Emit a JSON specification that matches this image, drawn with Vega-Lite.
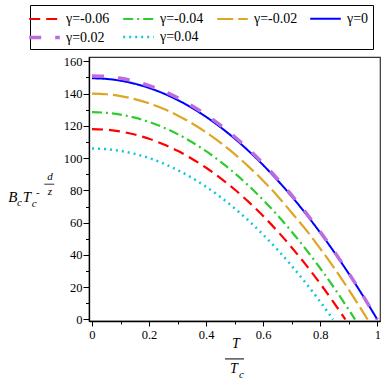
{
  "$schema": "https://vega.github.io/schema/vega-lite/v6.json",
  "autosize": "none",
  "width": 291,
  "height": 264,
  "padding": {"left": 89, "top": 57, "right": 6, "bottom": 65},
  "background": "white",
  "config": {
    "font": "Liberation Serif",
    "view": {"stroke": "#333333", "strokeWidth": 1.2},
    "axis": {"grid": false, "domainColor": "black", "domainWidth": 1.3, "tickColor": "black", "tickWidth": 1, "labelFont": "Liberation Serif", "labelFontSize": 12.5, "labelColor": "black", "title": null, "labelOverlap": false},
    "legend": {"labelFont": "Liberation Serif"}
  },
  "layer": [
    {
      "data": {"values": [
        {"gamma": "γ=-0.06", "t": 0, "B": 118}, {"gamma": "γ=-0.06", "t": 0.05, "B": 117.63}, {"gamma": "γ=-0.06", "t": 0.1, "B": 116.5}, {"gamma": "γ=-0.06", "t": 0.15, "B": 114.63}, {"gamma": "γ=-0.06", "t": 0.2, "B": 112.01}, {"gamma": "γ=-0.06", "t": 0.25, "B": 108.65}, {"gamma": "γ=-0.06", "t": 0.3, "B": 104.53}, {"gamma": "γ=-0.06", "t": 0.35, "B": 99.67}, {"gamma": "γ=-0.06", "t": 0.4, "B": 94.06}, {"gamma": "γ=-0.06", "t": 0.45, "B": 87.7}, {"gamma": "γ=-0.06", "t": 0.5, "B": 80.59}, {"gamma": "γ=-0.06", "t": 0.55, "B": 72.73}, {"gamma": "γ=-0.06", "t": 0.6, "B": 64.13}, {"gamma": "γ=-0.06", "t": 0.65, "B": 54.78}, {"gamma": "γ=-0.06", "t": 0.7, "B": 44.67}, {"gamma": "γ=-0.06", "t": 0.75, "B": 33.83}, {"gamma": "γ=-0.06", "t": 0.8, "B": 22.23}, {"gamma": "γ=-0.06", "t": 0.85, "B": 9.88}, {"gamma": "γ=-0.06", "t": 0.888, "B": 0},
        {"gamma": "γ=-0.04", "t": 0, "B": 128.5}, {"gamma": "γ=-0.04", "t": 0.05, "B": 128.12}, {"gamma": "γ=-0.04", "t": 0.1, "B": 126.99}, {"gamma": "γ=-0.04", "t": 0.15, "B": 125.1}, {"gamma": "γ=-0.04", "t": 0.2, "B": 122.45}, {"gamma": "γ=-0.04", "t": 0.25, "B": 119.05}, {"gamma": "γ=-0.04", "t": 0.3, "B": 114.9}, {"gamma": "γ=-0.04", "t": 0.35, "B": 109.98}, {"gamma": "γ=-0.04", "t": 0.4, "B": 104.31}, {"gamma": "γ=-0.04", "t": 0.45, "B": 97.89}, {"gamma": "γ=-0.04", "t": 0.5, "B": 90.71}, {"gamma": "γ=-0.04", "t": 0.55, "B": 82.77}, {"gamma": "γ=-0.04", "t": 0.6, "B": 74.08}, {"gamma": "γ=-0.04", "t": 0.65, "B": 64.63}, {"gamma": "γ=-0.04", "t": 0.7, "B": 54.43}, {"gamma": "γ=-0.04", "t": 0.75, "B": 43.47}, {"gamma": "γ=-0.04", "t": 0.8, "B": 31.76}, {"gamma": "γ=-0.04", "t": 0.85, "B": 19.29}, {"gamma": "γ=-0.04", "t": 0.9, "B": 6.06}, {"gamma": "γ=-0.04", "t": 0.922, "B": 0},
        {"gamma": "γ=-0.02", "t": 0, "B": 140}, {"gamma": "γ=-0.02", "t": 0.05, "B": 139.62}, {"gamma": "γ=-0.02", "t": 0.1, "B": 138.5}, {"gamma": "γ=-0.02", "t": 0.15, "B": 136.62}, {"gamma": "γ=-0.02", "t": 0.2, "B": 134}, {"gamma": "γ=-0.02", "t": 0.25, "B": 130.62}, {"gamma": "γ=-0.02", "t": 0.3, "B": 126.5}, {"gamma": "γ=-0.02", "t": 0.35, "B": 121.62}, {"gamma": "γ=-0.02", "t": 0.4, "B": 116}, {"gamma": "γ=-0.02", "t": 0.45, "B": 109.62}, {"gamma": "γ=-0.02", "t": 0.5, "B": 102.49}, {"gamma": "γ=-0.02", "t": 0.55, "B": 94.62}, {"gamma": "γ=-0.02", "t": 0.6, "B": 85.99}, {"gamma": "γ=-0.02", "t": 0.65, "B": 76.61}, {"gamma": "γ=-0.02", "t": 0.7, "B": 66.21}, {"gamma": "γ=-0.02", "t": 0.75, "B": 55.61}, {"gamma": "γ=-0.02", "t": 0.8, "B": 43.98}, {"gamma": "γ=-0.02", "t": 0.85, "B": 31.6}, {"gamma": "γ=-0.02", "t": 0.9, "B": 18.48}, {"gamma": "γ=-0.02", "t": 0.95, "B": 4.6}, {"gamma": "γ=-0.02", "t": 0.966, "B": 0},
        {"gamma": "γ=0", "t": 0, "B": 149.5}, {"gamma": "γ=0", "t": 0.05, "B": 149.13}, {"gamma": "γ=0", "t": 0.1, "B": 148.01}, {"gamma": "γ=0", "t": 0.15, "B": 146.14}, {"gamma": "γ=0", "t": 0.2, "B": 143.52}, {"gamma": "γ=0", "t": 0.25, "B": 140.16}, {"gamma": "γ=0", "t": 0.3, "B": 136.05}, {"gamma": "γ=0", "t": 0.35, "B": 131.19}, {"gamma": "γ=0", "t": 0.4, "B": 125.58}, {"gamma": "γ=0", "t": 0.45, "B": 119.23}, {"gamma": "γ=0", "t": 0.5, "B": 112.13}, {"gamma": "γ=0", "t": 0.55, "B": 104.28}, {"gamma": "γ=0", "t": 0.6, "B": 95.68}, {"gamma": "γ=0", "t": 0.65, "B": 86.34}, {"gamma": "γ=0", "t": 0.7, "B": 76.25}, {"gamma": "γ=0", "t": 0.75, "B": 65.41}, {"gamma": "γ=0", "t": 0.8, "B": 53.82}, {"gamma": "γ=0", "t": 0.85, "B": 41.49}, {"gamma": "γ=0", "t": 0.9, "B": 28.41}, {"gamma": "γ=0", "t": 0.95, "B": 14.58}, {"gamma": "γ=0", "t": 1, "B": 0},
        {"gamma": "γ=0.02", "t": 0, "B": 151}, {"gamma": "γ=0.02", "t": 0.05, "B": 150.62}, {"gamma": "γ=0.02", "t": 0.1, "B": 149.49}, {"gamma": "γ=0.02", "t": 0.15, "B": 147.6}, {"gamma": "γ=0.02", "t": 0.2, "B": 144.96}, {"gamma": "γ=0.02", "t": 0.25, "B": 141.56}, {"gamma": "γ=0.02", "t": 0.3, "B": 137.41}, {"gamma": "γ=0.02", "t": 0.35, "B": 132.5}, {"gamma": "γ=0.02", "t": 0.4, "B": 126.84}, {"gamma": "γ=0.02", "t": 0.45, "B": 120.42}, {"gamma": "γ=0.02", "t": 0.5, "B": 113.25}, {"gamma": "γ=0.02", "t": 0.55, "B": 105.32}, {"gamma": "γ=0.02", "t": 0.6, "B": 96.64}, {"gamma": "γ=0.02", "t": 0.65, "B": 87.2}, {"gamma": "γ=0.02", "t": 0.7, "B": 77.01}, {"gamma": "γ=0.02", "t": 0.75, "B": 66.06}, {"gamma": "γ=0.02", "t": 0.8, "B": 54.36}, {"gamma": "γ=0.02", "t": 0.85, "B": 41.9}, {"gamma": "γ=0.02", "t": 0.9, "B": 28.69}, {"gamma": "γ=0.02", "t": 0.95, "B": 14.72}, {"gamma": "γ=0.02", "t": 1, "B": 0},
        {"gamma": "γ=0.04", "t": 0, "B": 106}, {"gamma": "γ=0.04", "t": 0.05, "B": 105.63}, {"gamma": "γ=0.04", "t": 0.1, "B": 104.52}, {"gamma": "γ=0.04", "t": 0.15, "B": 102.66}, {"gamma": "γ=0.04", "t": 0.2, "B": 100.06}, {"gamma": "γ=0.04", "t": 0.25, "B": 96.72}, {"gamma": "γ=0.04", "t": 0.3, "B": 92.64}, {"gamma": "γ=0.04", "t": 0.35, "B": 87.81}, {"gamma": "γ=0.04", "t": 0.4, "B": 82.25}, {"gamma": "γ=0.04", "t": 0.45, "B": 75.94}, {"gamma": "γ=0.04", "t": 0.5, "B": 68.89}, {"gamma": "γ=0.04", "t": 0.55, "B": 61.09}, {"gamma": "γ=0.04", "t": 0.6, "B": 52.56}, {"gamma": "γ=0.04", "t": 0.65, "B": 43.28}, {"gamma": "γ=0.04", "t": 0.7, "B": 33.26}, {"gamma": "γ=0.04", "t": 0.75, "B": 22.49}, {"gamma": "γ=0.04", "t": 0.8, "B": 10.99}, {"gamma": "γ=0.04", "t": 0.845, "B": 0}
      ]},
      "mark": {"type": "line", "interpolate": "monotone", "strokeCap": "butt", "clip": true},
      "encoding": {
        "x": {"field": "t", "type": "quantitative", "scale": {"domain": [-0.0105, 1.0095], "nice": false, "zero": false},
          "axis": {"values": [0, 0.1, 0.2, 0.3, 0.4, 0.5, 0.6, 0.7, 0.8, 0.9, 1], "labelExpr": "round(datum.value*10) % 2 == 0 ? format(datum.value, '~g') : ''", "tickSize": {"condition": {"test": "round(datum.value*10) % 2 == 0", "value": 5}, "value": 3}, "labelPadding": 2, "labelFlush": false, "labelOverlap": false}},
        "y": {"field": "B", "type": "quantitative", "scale": {"domain": [-0.93, 162.7], "nice": false, "zero": false},
          "axis": {"values": [0, 10, 20, 30, 40, 50, 60, 70, 80, 90, 100, 110, 120, 130, 140, 150, 160], "labelExpr": "datum.value % 20 == 0 ? format(datum.value, 'd') : ''", "tickSize": {"condition": {"test": "datum.value % 20 == 0", "value": 6}, "value": 3.5}, "labelPadding": 1, "labelOverlap": false}},
        "color": {"field": "gamma", "type": "nominal", "title": null,
          "scale": {"domain": ["γ=-0.06", "γ=-0.04", "γ=-0.02", "γ=0", "γ=0.02", "γ=0.04"], "range": ["#ff0000", "#2ecc2e", "#dfa626", "#0000ff", "#bb6ddd", "#10c8d6"]},
          "legend": {"orient": "none", "legendX": -59, "legendY": -52, "direction": "horizontal", "columns": 4, "symbolType": "M-1.8,0H1.8", "symbolSize": 289, "symbolStrokeWidth": 2, "symbolFillColor": "transparent", "labelFont": "Liberation Serif", "labelFontSize": 14, "labelColor": "black", "labelOffset": 11, "columnPadding": 8, "rowPadding": 1, "padding": 4, "strokeColor": "black", "fillColor": "white", "labelLimit": 0}},
        "strokeDash": {"field": "gamma", "type": "nominal", "title": null,
          "scale": {"domain": ["γ=-0.06", "γ=-0.04", "γ=-0.02", "γ=0", "γ=0.02", "γ=0.04"], "range": [[11, 6], [10, 4, 2, 4], [16, 5], [1, 0], [12, 14], [2, 4]]}},
        "strokeWidth": {"field": "gamma", "type": "nominal", "legend": null,
          "scale": {"type": "ordinal", "domain": ["γ=-0.06", "γ=-0.04", "γ=-0.02", "γ=0", "γ=0.02", "γ=0.04"], "range": [2.2, 2.2, 2.2, 2, 3.5, 2.5]}}
      }
    },
    {
      "data": {"values": [{}]},
      "encoding": {
        "x": {"datum": 0, "type": "quantitative", "axis": {"values": [0, 0.1, 0.2, 0.3, 0.4, 0.5, 0.6, 0.7, 0.8, 0.9, 1], "labelExpr": "round(datum.value*10) % 2 == 0 ? format(datum.value, '~g') : ''", "tickSize": {"condition": {"test": "round(datum.value*10) % 2 == 0", "value": 5}, "value": 3}, "labelPadding": 2, "labelFlush": false, "labelOverlap": false}},
        "y": {"datum": 0, "type": "quantitative", "axis": {"values": [0, 10, 20, 30, 40, 50, 60, 70, 80, 90, 100, 110, 120, 130, 140, 150, 160], "labelExpr": "datum.value % 20 == 0 ? format(datum.value, 'd') : ''", "tickSize": {"condition": {"test": "datum.value % 20 == 0", "value": 6}, "value": 3.5}, "labelPadding": 1, "labelOverlap": false}}
      },
      "layer": [
        {"mark": {"type": "text", "text": "B", "font": "Liberation Serif", "fontStyle": "italic", "fontSize": 15, "align": "left", "baseline": "alphabetic", "color": "black"}, "encoding": {"x": {"datum": -0.2934}, "y": {"datum": 73.0}}},
        {"mark": {"type": "text", "text": "c", "font": "Liberation Serif", "fontStyle": "italic", "fontSize": 11, "align": "left", "baseline": "alphabetic", "color": "black"}, "encoding": {"x": {"datum": -0.2629}, "y": {"datum": 70.2}}},
        {"mark": {"type": "text", "text": "T", "font": "Liberation Serif", "fontStyle": "italic", "fontSize": 15, "align": "left", "baseline": "alphabetic", "color": "black"}, "encoding": {"x": {"datum": -0.2429}, "y": {"datum": 73.0}}},
        {"mark": {"type": "text", "text": "c", "font": "Liberation Serif", "fontStyle": "italic", "fontSize": 11, "align": "left", "baseline": "alphabetic", "color": "black"}, "encoding": {"x": {"datum": -0.2114}, "y": {"datum": 69.9}}},
        {"mark": {"type": "text", "text": "-", "font": "Liberation Serif", "fontSize": 11, "align": "left", "baseline": "alphabetic", "color": "black"}, "encoding": {"x": {"datum": -0.1963}, "y": {"datum": 76.4}}},
        {"mark": {"type": "text", "text": "d", "font": "Liberation Serif", "fontStyle": "italic", "fontSize": 11, "align": "center", "baseline": "alphabetic", "color": "black"}, "encoding": {"x": {"datum": -0.1472}, "y": {"datum": 86.3}}},
        {"mark": {"type": "rule", "color": "black", "strokeWidth": 0.8}, "encoding": {"x": {"datum": -0.1672}, "x2": {"datum": -0.1321}, "y": {"datum": 83.85}}},
        {"mark": {"type": "text", "text": "z", "font": "Liberation Serif", "fontStyle": "italic", "fontSize": 11, "align": "center", "baseline": "alphabetic", "color": "black"}, "encoding": {"x": {"datum": -0.1472}, "y": {"datum": 77.0}}},
        {"mark": {"type": "text", "text": "T", "font": "Liberation Serif", "fontStyle": "italic", "fontSize": 14, "align": "center", "baseline": "alphabetic", "color": "black"}, "encoding": {"x": {"datum": 0.5047}, "y": {"datum": -17.95}}},
        {"mark": {"type": "rule", "color": "black", "strokeWidth": 1}, "encoding": {"x": {"datum": 0.4662}, "x2": {"datum": 0.5328}, "y": {"datum": -24.44}}},
        {"mark": {"type": "text", "text": "T", "font": "Liberation Serif", "fontStyle": "italic", "fontSize": 14, "align": "center", "baseline": "alphabetic", "color": "black"}, "encoding": {"x": {"datum": 0.497}, "y": {"datum": -33.42}}},
        {"mark": {"type": "text", "text": "c", "font": "Liberation Serif", "fontStyle": "italic", "fontSize": 11, "align": "left", "baseline": "alphabetic", "color": "black"}, "encoding": {"x": {"datum": 0.5152}, "y": {"datum": -36.2}}}
      ]
    }
  ]
}
